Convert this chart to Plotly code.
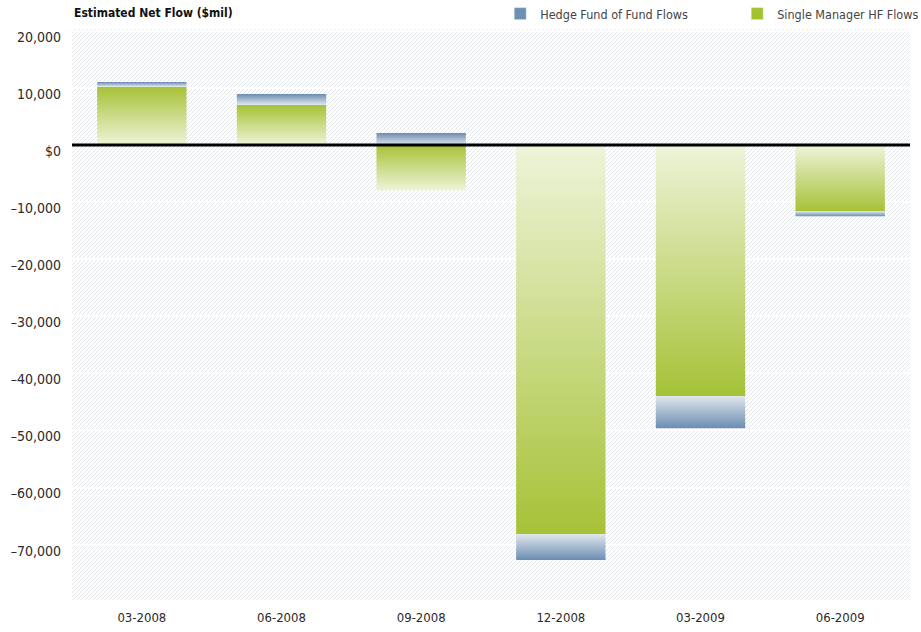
import base64
import plotly.graph_objects as go

categories = ["03-2008", "06-2008", "09-2008", "12-2008", "03-2009", "06-2009"]
single_manager = [10200, 7000, -8000, -68200, -44000, -11600]
fund_of_funds = [800, 1900, 2100, -4500, -5600, -900]
ytick_vals = [20000, 10000, 0, -10000, -20000, -30000, -40000, -50000, -60000, -70000]
ytick_text = ["20,000", "10,000", "$0", "\u201310,000", "\u201320,000", "\u201330,000",
              "\u201340,000", "\u201350,000", "\u201360,000", "\u201370,000"]

FONT = "DejaVu Sans Condensed, Liberation Sans Narrow, Arial Narrow, sans-serif"
GREEN_DARK, GREEN_PALE = "#a6c237", "#eef4d9"
BLUE_DARK, BLUE_PALE = "#6b8db2", "#e0e6ed"
HALF_W = 0.32

# hatched plot background (decoration only)
PW, PH = 838, 571
svg = (f'<svg xmlns="http://www.w3.org/2000/svg" width="{PW}" height="{PH}" '
       f'viewBox="0 0 {PW} {PH}" preserveAspectRatio="none">'
       '<defs><pattern id="h" patternUnits="userSpaceOnUse" width="4" height="4">'
       '<path d="M-1,1 l2,-2 M0,4 l4,-4 M3,5 l2,-2" stroke="#e3e6e9" stroke-width="1"/>'
       '</pattern></defs>'
       f'<rect width="{PW}" height="{PH}" fill="#ffffff"/>'
       f'<rect width="{PW}" height="{PH}" fill="url(#h)"/></svg>')
bg_src = "data:image/svg+xml;base64," + base64.b64encode(svg.encode()).decode()

fig = go.Figure()

for i, cat in enumerate(categories):
    s = single_manager[i]
    f = fund_of_funds[i]
    dark_on_top = max(s, f) > 0
    segs = [(0, s, GREEN_DARK, GREEN_PALE)]
    base = s if (f > 0) == (s > 0) else 0
    segs.append((base, base + f, BLUE_DARK, BLUE_PALE))
    for y0, y1, dark, pale in segs:
        lo, hi = min(y0, y1), max(y0, y1)
        cs = [[0, pale], [1, dark]] if dark_on_top else [[0, dark], [1, pale]]
        fig.add_trace(go.Scatter(
            x=[i - HALF_W, i + HALF_W, i + HALF_W, i - HALF_W, i - HALF_W],
            y=[lo, lo, hi, hi, lo],
            mode="lines", line=dict(width=0), fill="toself",
            fillcolor=dark,
            fillgradient=dict(type="vertical", colorscale=cs),
            showlegend=False, hoverinfo="skip"))

fig.add_trace(go.Bar(x=[None], y=[None], name="Hedge Fund of Fund Flows",
                     marker=dict(color="#6d8fb3")))
fig.add_trace(go.Bar(x=[None], y=[None], name="Single Manager HF Flows",
                     marker=dict(color="#a4c130")))

fig.add_shape(type="line", xref="paper", yref="y", x0=0, x1=1, y0=0, y1=0,
              line=dict(color="#000000", width=3), layer="above")

fig.add_layout_image(source=bg_src, xref="paper", yref="paper", x=0, y=1,
                     sizex=1, sizey=1, xanchor="left", yanchor="top",
                     sizing="stretch", layer="below")

fig.add_annotation(text="<b>Estimated Net Flow ($mil)</b>", xref="paper", yref="paper",
                   x=0, y=1, yshift=16, xanchor="left", yanchor="middle", showarrow=False,
                   font=dict(family=FONT, size=12, color="#111111"))

fig.update_layout(
    width=921, height=632,
    margin=dict(l=72, r=11, t=29, b=32, autoexpand=False),
    paper_bgcolor="white", plot_bgcolor="rgba(0,0,0,0)",
    font=dict(family=FONT, size=14, color="#2a2a2a"),
    showlegend=True,
    legend=dict(orientation="h", x=0.511, xanchor="left", y=1, yanchor="bottom",
                entrywidth=192, entrywidthmode="pixels", itemwidth=30,
                font=dict(family=FONT, size=12.5, color="#444444"),
                bgcolor="rgba(0,0,0,0)", traceorder="normal"),
    xaxis=dict(range=[-0.5, len(categories) - 0.5], tickvals=list(range(len(categories))),
               ticktext=categories, showgrid=False, zeroline=False, showline=False,
               ticks="", ticklabelstandoff=8, fixedrange=True,
               tickfont=dict(size=13)),
    yaxis=dict(range=[-79700, 20300], tickvals=ytick_vals, ticktext=ytick_text,
               showgrid=True, gridcolor="white", gridwidth=2, zeroline=False,
               showline=False, ticks="", ticklabelstandoff=10, ticklabelshift=6,
               fixedrange=True),
)

fig.write_html("out.html")
